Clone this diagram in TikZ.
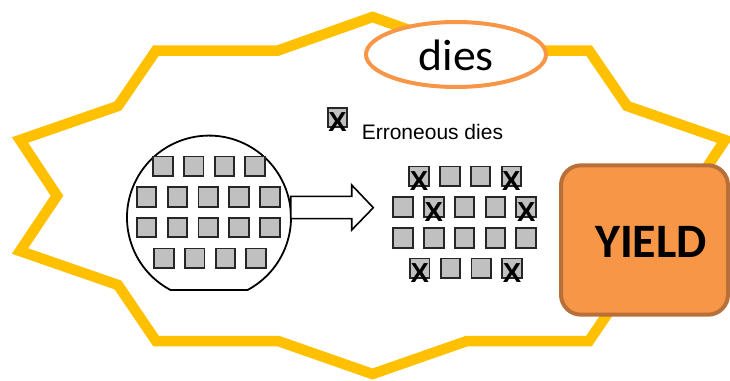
\documentclass[tikz,border=0pt]{standalone}
\usepackage{fontspec}
\setmainfont{Liberation Sans}
\newfontfamily\calibriwide[FakeStretch=1.04]{Carlito}
\newfontfamily\calibri{Carlito}
\usetikzlibrary{shapes.geometric}
\definecolor{stargold}{HTML}{FFC000}
\definecolor{accorange}{HTML}{F79646}
\definecolor{accbrown}{HTML}{B7703A}
\definecolor{diegray}{HTML}{C0C0C0}
\tikzset{
  die/.style={draw=black!85, line width=1.9pt, fill=diegray, minimum size=19.6pt, inner sep=0pt},
  badmark/.style={font=\bfseries\fontsize{27.5}{27.5}\selectfont, inner sep=0pt, text=black},
  waferline/.style={draw=black, line width=1.8pt, fill=white},
  blockarrow/.style={draw=black, line width=1.6pt, fill=white, line join=miter},
}
\begin{document}
\begin{tikzpicture}[x=1pt,y=-1pt]
\useasboundingbox (0,0) rectangle (730,380);

% twelve-point star outline
\draw[stargold, line width=10.5pt, line join=miter]
  (372.5,17) -- (467,50.5) -- (589,50.5) -- (627,106) -- (725,140) -- (688,195.7)
  -- (725,251) -- (627,285) -- (589,341) -- (467,341) -- (372.5,374) -- (278,341)
  -- (156,341) -- (118,285) -- (20,251) -- (57,195.7) -- (20,140) -- (118,106)
  -- (156,50.5) -- (278,50.5) -- cycle;

% wafer with flat
\coordinate (wafer) at (209,217.6);
\draw[waferline] (170.5,290) arc[start angle=118, end angle=422, radius=82] -- cycle;

% dies on the wafer
\foreach \i in {0,...,3} {
  \node[die] (w1\i) at (163+30.7*\i,166.3) {};
  \node[die] (w4\i) at (164+30.7*\i,258.3) {};
}
\foreach \i in {0,...,4} {
  \node[die] (w2\i) at (146.5+30.9*\i,197.2) {};
  \node[die] (w3\i) at (146.5+30.9*\i,227.5) {};
}

% block arrow
\coordinate (wafer-e) at (290.7,207.7);
\coordinate (grid-w) at (373.3,207.7);
\draw[blockarrow] (wafer-e) ++(0,-11.3) -- ++(61,0) -- ++(0,-11.4) -- (grid-w)
  -- ++(-21.6,22.3) -- ++(0,-11.4) -- ++(-61,0) -- cycle;

% diced dies
\foreach \i in {0,...,3} {
  \node[die] (d1\i) at (419+30.8*\i,176.3) {};
  \node[die] (d4\i) at (419.7+30.8*\i,268.3) {};
}
\foreach \i in {0,...,4} {
  \node[die] (d2\i) at (403+30.8*\i,207.2) {};
  \node[die] (d3\i) at (403+30.8*\i,237.8) {};
}
\foreach \d in {d10,d13,d21,d24,d40,d43} {
  \node[badmark] (\d x) at ([yshift=-4.5pt]\d.center) {X};
}

% legend
\node[die] (legend) at (337.5,117.5) {};
\node[badmark] (legendx) at ([yshift=-5pt]legend.center) {X};
\node[anchor=base west, inner sep=0pt, font=\fontsize{21}{21}\selectfont] (legendtext) at (361.6,139) {Erroneous dies};

% title ellipse
\node[ellipse, draw=accorange, line width=4pt, fill=white, minimum width=180pt, minimum height=65pt] (title) at (456,54.5) {};
\node[anchor=base, inner sep=0pt, font=\calibriwide\fontsize{44}{44}\selectfont] (titletext) at (456.3,70) {dies};

% yield box
\node[draw=accbrown, fill=accorange, line width=4pt, rounded corners=20pt, minimum width=167pt, minimum height=149.4pt] (yield) at (644.5,240) {};
\node[anchor=base, inner sep=0pt, font=\calibri\bfseries\fontsize{48}{48}\selectfont] (yieldtext) at (651,257.5) {YIELD};
\end{tikzpicture}
\end{document}
